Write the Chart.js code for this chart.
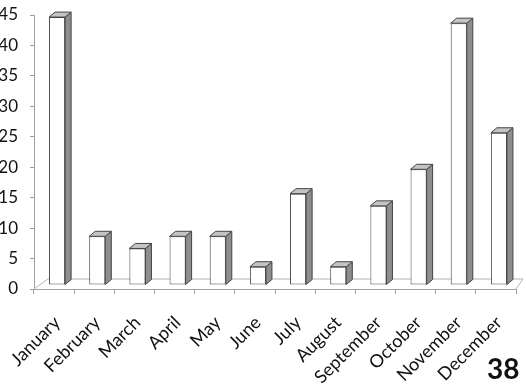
<!DOCTYPE html>
<html>
<head>
<meta charset="utf-8">
<script src="https://cdn.jsdelivr.net/npm/chart.js@4.4.0/dist/chart.umd.min.js"></script>
<style>
body { margin: 0; background: #fff; }
#wrap { position: relative; width: 526px; height: 385px; overflow: hidden; }
#pageNum { position: absolute; left: 487px; top: 351px; font: bold 28px Lato, sans-serif; color: #111; }
</style>
</head>
<body>
<div id="wrap">
  <canvas id="chart" width="526" height="385"></canvas>
  <div id="pageNum">38</div>
</div>
<script>
const months = ["January", "February", "March", "April", "May", "June", "July",
  "August", "September", "October", "November", "December"];
const counts = [44, 8, 6, 8, 8, 3, 15, 3, 13, 19, 43, 25];
const yMax = 45;
const yStep = 5;

// fake 3D look: side and top faces drawn on top of the library's bars
const depthX = 6, depthY = 5;
const shiftX = 3, shiftY = -4;
const edgeColor = '#444';

const floorLines = {
  id: 'floorLines',
  beforeDatasetsDraw(chart) {
    const ctx = chart.ctx;
    const a = chart.chartArea;
    ctx.save();
    ctx.strokeStyle = '#b4b4b4';
    ctx.lineWidth = 1;
    ctx.beginPath();
    ctx.moveTo(a.left, a.bottom);
    ctx.lineTo(a.left + 14, a.bottom - 10);
    ctx.lineTo(a.right + 7, a.bottom - 10);
    ctx.lineTo(a.right, a.bottom);
    ctx.stroke();
    ctx.restore();
  }
};

const columnFaces = {
  id: 'columnFaces',
  beforeDatasetsDraw(chart) {
    chart.ctx.save();
    chart.ctx.translate(shiftX, shiftY);
  },
  afterDatasetsDraw(chart) {
    const ctx = chart.ctx;
    ctx.lineWidth = 1;
    ctx.strokeStyle = edgeColor;
    chart.getDatasetMeta(0).data.forEach(bar => {
        const left = bar.x - bar.width / 2;
        const right = bar.x + bar.width / 2;
        const top = bar.y;
        const bottom = bar.base;

        ctx.beginPath();
        ctx.moveTo(right, top);
        ctx.lineTo(right + depthX, top - depthY);
        ctx.lineTo(right + depthX, bottom - depthY);
        ctx.lineTo(right, bottom);
        ctx.closePath();
        ctx.fillStyle = '#8e8e8e';
        ctx.fill();
        ctx.stroke();

        ctx.beginPath();
        ctx.moveTo(left, top);
        ctx.lineTo(left + depthX, top - depthY);
        ctx.lineTo(right + depthX, top - depthY);
        ctx.lineTo(right, top);
        ctx.closePath();
        ctx.fillStyle = '#c4c4c4';
        ctx.fill();
        ctx.stroke();
    });
    ctx.restore();
  }
};

const ctx = document.getElementById('chart').getContext('2d');
new Chart(ctx, {
    type: 'bar',
    data: {
        labels: months,
        datasets: [{
            data: counts,
            backgroundColor: '#ffffff',
            borderColor: edgeColor,
            borderWidth: 1,
            borderSkipped: false,
            categoryPercentage: 1,
            barPercentage: 0.4
        }]
    },
    options: {
        responsive: false,
        animation: false,
        layout: { padding: { top: 15, right: 10, left: 0, bottom: 0 } },
        plugins: { legend: { display: false }, tooltip: { enabled: false } },
        scales: {
            x: {
                grid: { drawOnChartArea: false, color: '#a0a0a0', tickLength: 5 },
                border: { color: '#a0a0a0' },
                ticks: {
                    minRotation: 45, maxRotation: 45, padding: 18, labelOffset: 3,
                    color: '#111', font: { family: 'Lato', size: 18 }
                },
                afterFit(scale) { scale.height = 96; scale.paddingLeft = 0; scale.paddingRight = 0; }
            },
            y: {
                min: 0, max: yMax,
                grid: { drawOnChartArea: false, color: '#a0a0a0', tickLength: 4 },
                border: { color: '#a0a0a0' },
                ticks: {
                    stepSize: yStep, padding: 12,
                    color: '#111', font: { family: 'Lato', size: 17 }
                },
                afterFit(scale) { scale.width = 34; scale.paddingTop = 0; scale.paddingBottom = 0; }
            }
        }
    },
    plugins: [floorLines, columnFaces]
});
</script>
</body>
</html>
